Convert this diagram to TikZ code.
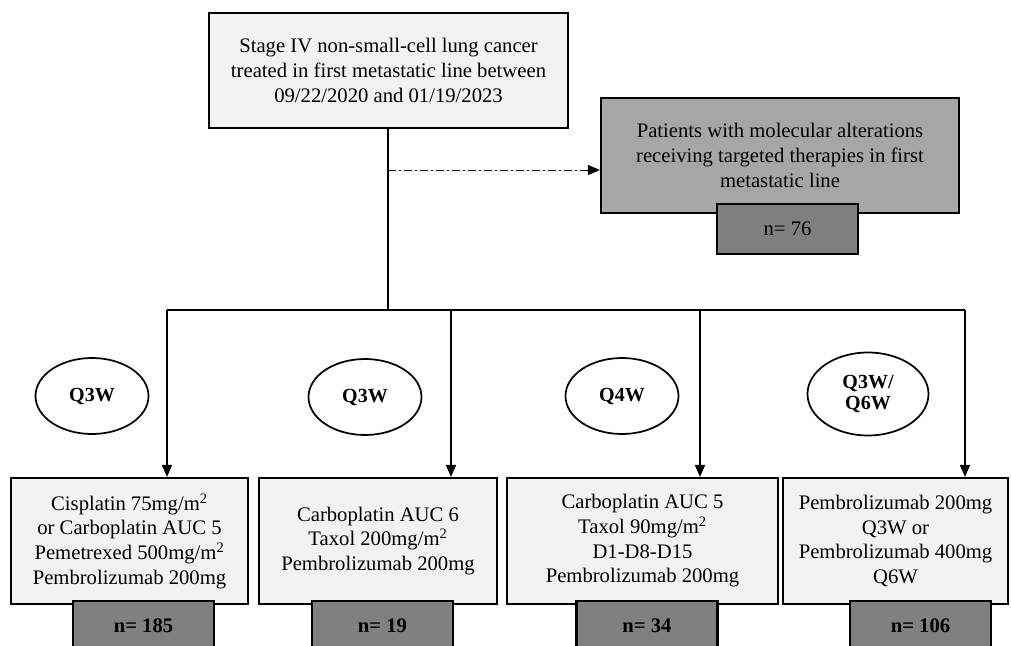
\documentclass[tikz,border=0pt]{standalone}
\usepackage{fontspec}
\setmainfont{Liberation Serif}
\usepackage{tikz}
\usetikzlibrary{arrows.meta,shapes,calc}

\definecolor{lightbox}{HTML}{F2F2F2}
\definecolor{midbox}{HTML}{A6A6A6}
\definecolor{darkbox}{HTML}{808080}

\begin{document}
\begin{tikzpicture}[x = 0.75pt, y = -0.75pt,
    box/.style = {draw, line width = 1.6pt, align = center, inner sep = 2pt,
      font = \fontsize{15.5}{18.5}\selectfont},
    countbox/.style = {draw, line width = 1.6pt, fill = darkbox, minimum width = 105.75pt,
      minimum height = 37.5pt, font = \fontsize{15.5}{18.5}\selectfont},
    freq/.style = {draw, ellipse, line width = 1.3pt, align = center,
      minimum width = 84.75pt, minimum height = 57pt, inner sep = 0pt,
      font = \bfseries\fontsize{15}{16}\selectfont},
    link/.style = {line width = 1.2pt},
    arr/.style = {line width = 1.2pt, -{Triangle[length = 9pt, width = 7.5pt]}}]
      \clip (0, 0) rectangle (1011, 646);

      \node[box, fill = lightbox, minimum width = 269.25pt, minimum height = 86.25pt] at (388.5, 70.5) (stage)
        {Stage IV non-small-cell lung cancer\\treated in first metastatic line between\\09/22/2020 and 01/19/2023};
      \node[box, fill = midbox, minimum width = 268.5pt, minimum height = 86.25pt] at (780, 155.5) (targeted)
        {Patients with molecular alterations\\receiving targeted therapies in first\\metastatic line};
      \node[countbox] at (787.5, 229) (n0) {n= 76};

      \node[box, fill = lightbox, minimum width = 177.75pt, minimum height = 94.5pt] at (129.5, 541) (reg1)
        {Cisplatin 75mg/m\textsuperscript{2}\\or Carboplatin AUC 5\\Pemetrexed 500mg/m\textsuperscript{2}\\Pembrolizumab 200mg};
      \node[box, fill = lightbox, minimum width = 178.5pt, minimum height = 94.5pt] at (378, 541) (reg2)
        {Carboplatin AUC 6\\Taxol 200mg/m\textsuperscript{2}\\Pembrolizumab 200mg};
      \node[box, fill = lightbox, minimum width = 203.25pt, minimum height = 94.5pt] at (642.5, 541) (reg3)
        {Carboplatin AUC 5\\Taxol 90mg/m\textsuperscript{2}\\D1-D8-D15\\Pembrolizumab 200mg};
      \node[box, fill = lightbox, minimum width = 168.75pt, minimum height = 94.5pt] at (895.5, 541) (reg4)
        {Pembrolizumab 200mg\\Q3W or\\Pembrolizumab 400mg\\Q6W};

      \node[countbox, font = \bfseries\fontsize{15.5}{18.5}\selectfont] at (143.5, 626) (n1) {n= 185};
      \node[countbox, font = \bfseries\fontsize{15.5}{18.5}\selectfont] at (382.5, 626) (n2) {n= 19};
      \node[countbox, font = \bfseries\fontsize{15.5}{18.5}\selectfont] at (647, 626) (n3) {n= 34};
      \node[countbox, font = \bfseries\fontsize{15.5}{18.5}\selectfont] at (920.5, 626) (n4) {n= 106};

      \node[freq] at (92, 396) (f1) {Q3W};
      \node[freq] at (365, 397) (f2) {Q3W};
      \node[freq] at (622, 396) (f3) {Q4W};
      \node[freq, minimum width = 90.75pt, minimum height = 62.25pt] at (868, 394) (f4) {Q3W/\\Q6W};

      % tree of connectors
      \coordinate (split) at (388, 310);
      \coordinate (tap) at (388, 170);
      \coordinate (b1) at (167, 310);
      \coordinate (b2) at (451, 310);
      \coordinate (b3) at (700, 310);
      \coordinate (b4) at (965, 310);

      \draw[link] (stage.south -| split) -- (split);
      \draw[link] (b1) -- (b4);
      \draw[line width = 0.7pt, dash pattern = on 6pt off 2.5pt on 1pt off 2.5pt,
        -{Triangle[length = 9pt, width = 7.5pt]}] (tap) -- (tap -| targeted.west);
      \foreach \b/\r in {b1/reg1, b2/reg2, b3/reg3, b4/reg4}
        \draw[arr] (\b) -- (\b |- \r.north);
    \end{tikzpicture}
\end{document}
